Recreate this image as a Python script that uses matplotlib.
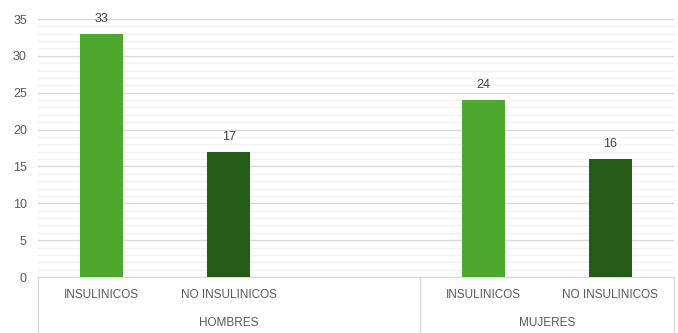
import matplotlib.pyplot as plt
from matplotlib.ticker import MultipleLocator

# data
categories = ['INSULINICOS', 'NO INSULINICOS', '', 'INSULINICOS', 'NO INSULINICOS']
values = [33, 17, None, 24, 16]
groups = ['HOMBRES', 'MUJERES']
group_sizes = [3, 2]
bar_colors = ['#4EA72E', '#265A17', '#FFFFFF', '#4EA72E', '#265A17']

plt.rcParams['font.family'] = ['Liberation Sans', 'DejaVu Sans']
txt = '#595959'

fig = plt.figure(figsize=(6.78, 3.33), dpi=100)
ax = fig.add_axes([38 / 678, 56 / 333, 636 / 678, 258 / 333])

x = list(range(len(categories)))
for xi, v, c in zip(x, values, bar_colors):
    if v is None:
        continue
    ax.bar(xi, v, width=0.34, color=c, zorder=3)
    ax.text(xi, v + 1.2, str(v), ha='center', va='bottom', fontsize=9, color='#404040')

ax.set_xlim(-0.5, len(categories) - 0.5)
ax.set_ylim(0, 35)
ax.yaxis.set_major_locator(MultipleLocator(5))
ax.yaxis.set_minor_locator(MultipleLocator(1))
ax.grid(axis='y', which='major', color='#D9D9D9', linewidth=1, zorder=1)
ax.grid(axis='y', which='minor', color='#F2F2F2', linewidth=1, zorder=0)
for s in ['top', 'right', 'left']:
    ax.spines[s].set_visible(False)
ax.spines['bottom'].set_color('#D9D9D9')
ax.tick_params(axis='y', which='both', length=0, labelsize=9, labelcolor=txt, pad=8)
ax.tick_params(axis='x', length=0)
ax.set_xticks([])

# category labels and group labels below the axis
for xi, lab in zip(x, categories):
    ax.text(xi, -2.5, lab, ha='center', va='center', fontsize=8.5, color=txt,
            transform=ax.transData, clip_on=False)

start = 0
seps = [-0.5]
for g, n in zip(groups, group_sizes):
    mid = start + (n - 1) / 2
    ax.text(mid, -6.3, g, ha='center', va='center', fontsize=8.5, color=txt, clip_on=False)
    start += n
    seps.append(start - 0.5)
for sx in seps:
    ax.plot([sx, sx], [0, -7.6], color='#D9D9D9', linewidth=1, clip_on=False)

fig.savefig('out.png', dpi=100)
